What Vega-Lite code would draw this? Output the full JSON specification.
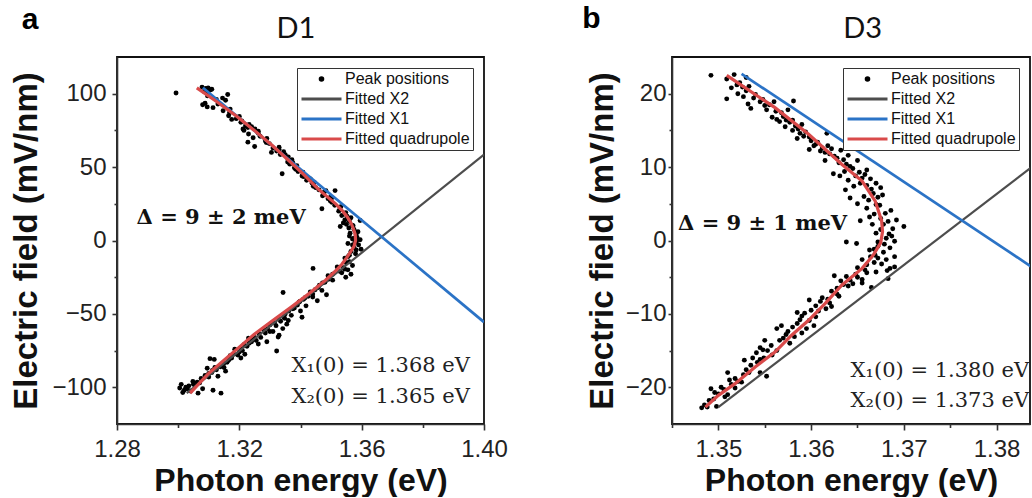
{
  "$schema": "https://vega.github.io/schema/vega-lite/v6.json",
  "padding": {"left": 10, "top": 3, "right": 0, "bottom": 0},
  "datasets": {
    "ptsA": [{"e":1.2993,"f":100.5},{"e":1.3078,"f":104.5},{"e":1.3090,"f":103.5},{"e":1.3098,"f":104},{"e":1.3105,"f":102.5},{"e":1.3085,"f":101.5},{"e":1.3110,"f":103},{"e":1.3080,"f":92.5},{"e":1.3095,"f":91},{"e":1.3088,"f":93.5},{"e":1.3114,"f":90.5},{"e":1.3145,"f":97},{"e":1.3162,"f":99.5},{"e":1.3155,"f":95.5},{"e":1.3147,"f":88.4},{"e":1.3165,"f":85},{"e":1.3175,"f":82.5},{"e":1.3190,"f":83},{"e":1.3205,"f":80.5},{"e":1.3220,"f":78},{"e":1.3212,"f":76},{"e":1.3215,"f":75},{"e":1.3230,"f":72.5},{"e":1.3245,"f":70},{"e":1.3228,"f":67},{"e":1.3250,"f":64},{"e":1.3262,"f":73},{"e":1.3240,"f":77.5},{"e":1.3251,"f":76},{"e":1.3285,"f":68},{"e":1.3298,"f":66},{"e":1.3310,"f":63},{"e":1.3322,"f":61},{"e":1.3305,"f":60},{"e":1.3330,"f":63.5},{"e":1.3345,"f":60.5},{"e":1.3360,"f":57},{"e":1.3372,"f":55},{"e":1.3350,"f":58.5},{"e":1.3340,"f":45.5},{"e":1.3365,"f":52},{"e":1.3380,"f":49.5},{"e":1.3392,"f":47},{"e":1.3375,"f":53},{"e":1.3405,"f":44},{"e":1.3420,"f":41},{"e":1.3438,"f":39},{"e":1.3450,"f":36},{"e":1.3428,"f":42.5},{"e":1.3460,"f":34.5},{"e":1.3470,"f":21.6},{"e":1.3483,"f":34},{"e":1.3475,"f":31},{"e":1.3490,"f":28.5},{"e":1.3502,"f":26},{"e":1.3512,"f":24},{"e":1.3498,"f":29.5},{"e":1.3513,"f":34},{"e":1.3525,"f":20},{"e":1.3535,"f":17},{"e":1.3545,"f":14},{"e":1.3550,"f":11},{"e":1.3558,"f":8.5},{"e":1.3562,"f":5},{"e":1.3540,"f":12},{"e":1.3565,"f":15.5},{"e":1.3530,"f":9.5},{"e":1.3560,"f":3},{"e":1.3570,"f":1},{"e":1.3578,"f":-1.5},{"e":1.3585,"f":2},{"e":1.3590,"f":-3},{"e":1.3598,"f":-6},{"e":1.3575,"f":-5},{"e":1.3565,"f":-7.5},{"e":1.3588,"f":6},{"e":1.3572,"f":10},{"e":1.3595,"f":0.5},{"e":1.3580,"f":-9},{"e":1.3555,"f":-2},{"e":1.3595,"f":13.6},{"e":1.3545,"f":-12},{"e":1.3560,"f":-14.5},{"e":1.3570,"f":-17},{"e":1.3555,"f":-20},{"e":1.3535,"f":-22},{"e":1.3548,"f":-25},{"e":1.3520,"f":-18},{"e":1.3565,"f":-23},{"e":1.3441,"f":-19},{"e":1.3490,"f":-24},{"e":1.3505,"f":-27},{"e":1.3480,"f":-28.5},{"e":1.3470,"f":-34},{"e":1.3485,"f":-37},{"e":1.3462,"f":-30.5},{"e":1.3343,"f":-35.4},{"e":1.3380,"f":-46},{"e":1.3395,"f":-42},{"e":1.3410,"f":-40},{"e":1.3425,"f":-38},{"e":1.3440,"f":-36.5},{"e":1.3400,"f":-48},{"e":1.3370,"f":-51},{"e":1.3455,"f":-41},{"e":1.3418,"f":-44.5},{"e":1.3360,"f":-54.5},{"e":1.3405,"f":-52.3},{"e":1.3320,"f":-58},{"e":1.3335,"f":-55},{"e":1.3348,"f":-53},{"e":1.3310,"f":-62},{"e":1.3330,"f":-64.5},{"e":1.3342,"f":-60},{"e":1.3355,"f":-57},{"e":1.3327,"f":-65.8},{"e":1.3322,"f":-75.3},{"e":1.3255,"f":-68},{"e":1.3270,"f":-66},{"e":1.3285,"f":-63},{"e":1.3300,"f":-62},{"e":1.3262,"f":-70.5},{"e":1.3290,"f":-69},{"e":1.3195,"f":-78},{"e":1.3210,"f":-75},{"e":1.3225,"f":-72},{"e":1.3240,"f":-69},{"e":1.3205,"f":-80},{"e":1.3230,"f":-66.5},{"e":1.3218,"f":-77.5},{"e":1.3185,"f":-74},{"e":1.3160,"f":-83},{"e":1.3175,"f":-80},{"e":1.3150,"f":-86.5},{"e":1.3110,"f":-90},{"e":1.3125,"f":-88},{"e":1.3140,"f":-85},{"e":1.3100,"f":-93},{"e":1.3130,"f":-92.5},{"e":1.3155,"f":-89},{"e":1.3118,"f":-81},{"e":1.3095,"f":-87},{"e":1.3104,"f":-80.5},{"e":1.3010,"f":-98},{"e":1.3025,"f":-100},{"e":1.3040,"f":-102.5},{"e":1.3055,"f":-99},{"e":1.3070,"f":-97},{"e":1.3080,"f":-101},{"e":1.3015,"f":-103.5},{"e":1.3048,"f":-96},{"e":1.3065,"f":-104},{"e":1.3140,"f":-104},{"e":1.3114,"f":-102},
      {"e":1.3092,"f":101},{"e":1.3096,"f":98.5},{"e":1.3125,"f":96},{"e":1.3130,"f":93},{"e":1.3170,"f":89.5},{"e":1.3168,"f":87},{"e":1.3200,"f":84.5},{"e":1.3208,"f":81.5},{"e":1.3232,"f":79},{"e":1.3228,"f":77},{"e":1.3262,"f":74.5},{"e":1.3268,"f":71},{"e":1.3290,"f":69.5},{"e":1.3288,"f":66.8},{"e":1.3330,"f":62},{"e":1.3334,"f":58.5},{"e":1.3356,"f":56.5},{"e":1.3358,"f":53.5},{"e":1.3388,"f":51},{"e":1.3384,"f":48.5},{"e":1.3408,"f":46.5},{"e":1.3410,"f":43.5},{"e":1.3432,"f":42},{"e":1.3445,"f":39.5},{"e":1.3442,"f":37},{"e":1.3478,"f":33},{"e":1.3472,"f":30.5},{"e":1.3502,"f":29},{"e":1.3497,"f":27},{"e":1.3532,"f":23},{"e":1.3528,"f":21},{"e":1.3548,"f":19},{"e":1.3552,"f":16.5},{"e":1.3560,"f":13},{"e":1.3568,"f":10.5},{"e":1.3575,"f":7.5},{"e":1.3582,"f":4},{"e":1.3575,"f":1.5},{"e":1.3583,"f":-0.5},{"e":1.3570,"f":-3},{"e":1.3582,"f":-6.5},{"e":1.3560,"f":-10},{"e":1.3555,"f":-11},{"e":1.3548,"f":-15},{"e":1.3540,"f":-18.5},{"e":1.3528,"f":-21},{"e":1.3545,"f":-19.5},{"e":1.3505,"f":-23},{"e":1.3490,"f":-26.5},{"e":1.3472,"f":-29},{"e":1.3458,"f":-32},{"e":1.3448,"f":-33.5},{"e":1.3432,"f":-35},{"e":1.3440,"f":-38.5},{"e":1.3415,"f":-39},{"e":1.3398,"f":-41.5},{"e":1.3390,"f":-44},{"e":1.3375,"f":-46.5},{"e":1.3362,"f":-48},{"e":1.3350,"f":-50},{"e":1.3345,"f":-52},{"e":1.3328,"f":-53},{"e":1.3315,"f":-56},{"e":1.3300,"f":-57.5},{"e":1.3292,"f":-60},{"e":1.3280,"f":-61},{"e":1.3265,"f":-63.5},{"e":1.3250,"f":-66},{"e":1.3240,"f":-67.5},{"e":1.3232,"f":-70},{"e":1.3215,"f":-71},{"e":1.3205,"f":-73.5},{"e":1.3200,"f":-76},{"e":1.3182,"f":-77.5},{"e":1.3170,"f":-78.5},{"e":1.3165,"f":-81.5},{"e":1.3150,"f":-83.5},{"e":1.3138,"f":-86},{"e":1.3120,"f":-86.5},{"e":1.3112,"f":-88.5},{"e":1.3100,"f":-90.5},{"e":1.3088,"f":-92},{"e":1.3075,"f":-94},{"e":1.3062,"f":-96.5},{"e":1.3050,"f":-98},{"e":1.3035,"f":-99},{"e":1.3030,"f":-101},{"e":1.3020,"f":-102},{"e":1.3005,"f":-100.5}],
    "fitA": [{"series":"Fitted X2","e":1.3028,"f":-104},{"series":"Fitted X2","e":1.40,"f":58.5},{"series":"Fitted X1","e":1.3081,"f":104},{"series":"Fitted X1","e":1.40,"f":-55.6},{"series":"Fitted quadrupole","e":1.3061,"f":104},{"series":"Fitted quadrupole","e":1.3123,"f":95},{"series":"Fitted quadrupole","e":1.3189,"f":85},{"series":"Fitted quadrupole","e":1.3249,"f":75},{"series":"Fitted quadrupole","e":1.3306,"f":65},{"series":"Fitted quadrupole","e":1.3359,"f":55},{"series":"Fitted quadrupole","e":1.3410,"f":45},{"series":"Fitted quadrupole","e":1.3458,"f":35},{"series":"Fitted quadrupole","e":1.3515,"f":25},{"series":"Fitted quadrupole","e":1.3538,"f":20},{"series":"Fitted quadrupole","e":1.3553,"f":16},{"series":"Fitted quadrupole","e":1.3565,"f":12},{"series":"Fitted quadrupole","e":1.3573,"f":8},{"series":"Fitted quadrupole","e":1.3579,"f":4},{"series":"Fitted quadrupole","e":1.3580,"f":0},{"series":"Fitted quadrupole","e":1.3575,"f":-4},{"series":"Fitted quadrupole","e":1.3563,"f":-8},{"series":"Fitted quadrupole","e":1.3550,"f":-12},{"series":"Fitted quadrupole","e":1.3536,"f":-16},{"series":"Fitted quadrupole","e":1.3518,"f":-20},{"series":"Fitted quadrupole","e":1.3482,"f":-27},{"series":"Fitted quadrupole","e":1.3429,"f":-36},{"series":"Fitted quadrupole","e":1.3372,"f":-45},{"series":"Fitted quadrupole","e":1.3306,"f":-55},{"series":"Fitted quadrupole","e":1.3248,"f":-64},{"series":"Fitted quadrupole","e":1.3198,"f":-73},{"series":"Fitted quadrupole","e":1.3147,"f":-82},{"series":"Fitted quadrupole","e":1.3097,"f":-91},{"series":"Fitted quadrupole","e":1.3039,"f":-104}],
    "ptsB": [{"e":1.3492,"f":22.5},{"e":1.3509,"f":19.3},{"e":1.3532,"f":18.6},{"e":1.3509,"f":22.0},{"e":1.3517,"f":22.6},{"e":1.3523,"f":21.5},{"e":1.3530,"f":22.2},{"e":1.3514,"f":20.8},{"e":1.3521,"f":20.0},{"e":1.3527,"f":19.6},{"e":1.3530,"f":20.4},{"e":1.3538,"f":19.4},{"e":1.3545,"f":18.9},{"e":1.3535,"f":18.0},{"e":1.3550,"f":18.4},{"e":1.3555,"f":18.5},{"e":1.3562,"f":17.6},{"e":1.3570,"f":16.9},{"e":1.3575,"f":17.8},{"e":1.3566,"f":16.2},{"e":1.3558,"f":16.8},{"e":1.3581,"f":19.0},{"e":1.3563,"f":16.5},{"e":1.3572,"f":15.5},{"e":1.3580,"f":15.0},{"e":1.3588,"f":14.6},{"e":1.3577,"f":16.1},{"e":1.3580,"f":16.4},{"e":1.3590,"f":15.8},{"e":1.3592,"f":14.2},{"e":1.3600,"f":13.6},{"e":1.3585,"f":13.9},{"e":1.3605,"f":13.1},{"e":1.3612,"f":12.6},{"e":1.3618,"f":12.9},{"e":1.3598,"f":12.4},{"e":1.3603,"f":12.9},{"e":1.3620,"f":11.8},{"e":1.3628,"f":11.2},{"e":1.3615,"f":10.9},{"e":1.3632,"f":12.3},{"e":1.3617,"f":14.6},{"e":1.3624,"f":9.1},{"e":1.3631,"f":8.8},{"e":1.3638,"f":10.4},{"e":1.3645,"f":9.8},{"e":1.3650,"f":10.9},{"e":1.3640,"f":11.6},{"e":1.3652,"f":9.3},{"e":1.3640,"f":8.2},{"e":1.3646,"f":7.4},{"e":1.3637,"f":6.9},{"e":1.3658,"f":9.0},{"e":1.3664,"f":8.4},{"e":1.3660,"f":7.5},{"e":1.3667,"f":6.4},{"e":1.3672,"f":5.9},{"e":1.3657,"f":6.0},{"e":1.3675,"f":7.2},{"e":1.3642,"f":5.8},{"e":1.3650,"f":5.0},{"e":1.3660,"f":4.4},{"e":1.3668,"f":3.6},{"e":1.3674,"f":4.8},{"e":1.3663,"f":3.2},{"e":1.3686,"f":4.1},{"e":1.3692,"f":2.8},{"e":1.3700,"f":1.9},{"e":1.3688,"f":1.6},{"e":1.3653,"f":2.7},{"e":1.3670,"f":1.0},{"e":1.3678,"f":2.2},{"e":1.3681,"f":0.3},{"e":1.3672,"f":-0.2},{"e":1.3684,"f":0.9},{"e":1.3690,"f":-0.1},{"e":1.3638,"f":-0.2},{"e":1.3649,"f":-0.4},{"e":1.3672,"f":-0.8},{"e":1.3678,"f":-1.6},{"e":1.3685,"f":-1.0},{"e":1.3690,"f":-2.2},{"e":1.3669,"f":-2.0},{"e":1.3663,"f":-1.3},{"e":1.3655,"f":-2.6},{"e":1.3660,"f":-3.3},{"e":1.3668,"f":-3.0},{"e":1.3650,"f":-3.7},{"e":1.3672,"f":-2.4},{"e":1.3676,"f":-3.2},{"e":1.3682,"f":-4.1},{"e":1.3690,"f":-3.6},{"e":1.3685,"f":-3.8},{"e":1.3683,"f":-5.2},{"e":1.3648,"f":-4.6},{"e":1.3655,"f":-5.3},{"e":1.3660,"f":-4.4},{"e":1.3645,"f":-5.9},{"e":1.3625,"f":-4.8},{"e":1.3632,"f":-5.5},{"e":1.3640,"f":-6.2},{"e":1.3638,"f":-4.9},{"e":1.3628,"f":-6.5},{"e":1.3655,"f":-5.8},{"e":1.3665,"f":-6.4},{"e":1.3612,"f":-7.8},{"e":1.3620,"f":-8.5},{"e":1.3628,"f":-7.3},{"e":1.3616,"f":-9.3},{"e":1.3605,"f":-8.9},{"e":1.3598,"f":-8.1},{"e":1.3608,"f":-9.6},{"e":1.3590,"f":-10.3},{"e":1.3598,"f":-10.9},{"e":1.3603,"f":-11.6},{"e":1.3585,"f":-9.8},{"e":1.3585,"f":-11.3},{"e":1.3595,"f":-12.0},{"e":1.3568,"f":-11.6},{"e":1.3575,"f":-12.4},{"e":1.3582,"f":-13.1},{"e":1.3570,"f":-13.3},{"e":1.3563,"f":-12.0},{"e":1.3550,"f":-13.6},{"e":1.3557,"f":-14.3},{"e":1.3563,"f":-15.0},{"e":1.3548,"f":-14.9},{"e":1.3541,"f":-15.3},{"e":1.3549,"f":-16.0},{"e":1.3545,"f":-14.6},{"e":1.3528,"f":-16.3},{"e":1.3535,"f":-17.0},{"e":1.3542,"f":-16.6},{"e":1.3530,"f":-17.6},{"e":1.3545,"f":-18.0},{"e":1.3552,"f":-18.5},{"e":1.3510,"f":-18.0},{"e":1.3518,"f":-18.8},{"e":1.3525,"f":-19.3},{"e":1.3514,"f":-19.6},{"e":1.3518,"f":-20.1},{"e":1.3492,"f":-20.2},{"e":1.3500,"f":-20.9},{"e":1.3507,"f":-21.3},{"e":1.3495,"f":-21.6},{"e":1.3485,"f":-22.4},{"e":1.3490,"f":-21.8},{"e":1.3498,"f":-22.6},
      {"e":1.3520,"f":21.2},{"e":1.3526,"f":20.9},{"e":1.3533,"f":21.0},{"e":1.3540,"f":19.9},{"e":1.3548,"f":19.2},{"e":1.3552,"f":17.8},{"e":1.3560,"f":18.9},{"e":1.3568,"f":17.4},{"e":1.3573,"f":16.4},{"e":1.3583,"f":15.6},{"e":1.3586,"f":15.2},{"e":1.3594,"f":14.8},{"e":1.3598,"f":14.1},{"e":1.3607,"f":13.4},{"e":1.3610,"f":12.2},{"e":1.3615,"f":12.0},{"e":1.3622,"f":12.5},{"e":1.3625,"f":11.5},{"e":1.3630,"f":10.6},{"e":1.3635,"f":11.0},{"e":1.3642,"f":10.1},{"e":1.3636,"f":9.4},{"e":1.3648,"f":8.8},{"e":1.3655,"f":8.5},{"e":1.3660,"f":9.6},{"e":1.3653,"f":7.8},{"e":1.3665,"f":7.0},{"e":1.3670,"f":7.8},{"e":1.3662,"f":5.5},{"e":1.3670,"f":4.9},{"e":1.3677,"f":6.2},{"e":1.3680,"f":3.7},{"e":1.3675,"f":3.0},{"e":1.3683,"f":2.6},{"e":1.3666,"f":2.2},{"e":1.3675,"f":1.5},{"e":1.3687,"f":0.6},{"e":1.3679,"f":-0.5},{"e":1.3668,"f":-1.2},{"e":1.3681,"f":-2.6},{"e":1.3664,"f":-2.2},{"e":1.3658,"f":-4.0},{"e":1.3670,"f":-4.3},{"e":1.3650,"f":-5.0},{"e":1.3642,"f":-5.4},{"e":1.3635,"f":-6.0},{"e":1.3622,"f":-6.9},{"e":1.3630,"f":-7.6},{"e":1.3618,"f":-8.0},{"e":1.3610,"f":-8.3},{"e":1.3622,"f":-9.0},{"e":1.3600,"f":-9.5},{"e":1.3593,"f":-9.9},{"e":1.3605,"f":-10.4},{"e":1.3588,"f":-10.8},{"e":1.3580,"f":-11.8},{"e":1.3590,"f":-12.6},{"e":1.3573,"f":-12.8},{"e":1.3566,"f":-13.6},{"e":1.3577,"f":-14.0},{"e":1.3558,"f":-15.6},{"e":1.3553,"f":-15.0},{"e":1.3545,"f":-16.2},{"e":1.3537,"f":-16.0},{"e":1.3533,"f":-18.0},{"e":1.3527,"f":-18.3},{"e":1.3521,"f":-19.2},{"e":1.3512,"f":-19.0},{"e":1.3506,"f":-20.3},{"e":1.3503,"f":-20.0},{"e":1.3496,"f":-20.7},{"e":1.3488,"f":-22.7},{"e":1.3482,"f":-22.8},{"e":1.3510,"f":-21.0}],
    "fitB": [{"series":"Fitted X2","e":1.3500,"f":-22.7},{"series":"Fitted X2","e":1.3845,"f":10.7},{"series":"Fitted X1","e":1.3525,"f":22.7},{"series":"Fitted X1","e":1.3845,"f":-4.2},{"series":"Fitted quadrupole","e":1.3509,"f":22.5},{"series":"Fitted quadrupole","e":1.3561,"f":18.1},{"series":"Fitted quadrupole","e":1.3597,"f":14.5},{"series":"Fitted quadrupole","e":1.3633,"f":10.4},{"series":"Fitted quadrupole","e":1.3655,"f":8.1},{"series":"Fitted quadrupole","e":1.3669,"f":5.4},{"series":"Fitted quadrupole","e":1.3676,"f":2.7},{"series":"Fitted quadrupole","e":1.3677,"f":1.2},{"series":"Fitted quadrupole","e":1.3675,"f":-0.3},{"series":"Fitted quadrupole","e":1.3667,"f":-2.0},{"series":"Fitted quadrupole","e":1.3655,"f":-3.8},{"series":"Fitted quadrupole","e":1.3633,"f":-6.1},{"series":"Fitted quadrupole","e":1.3615,"f":-8.6},{"series":"Fitted quadrupole","e":1.3597,"f":-10.9},{"series":"Fitted quadrupole","e":1.3579,"f":-12.9},{"series":"Fitted quadrupole","e":1.3561,"f":-15.2},{"series":"Fitted quadrupole","e":1.3540,"f":-17.2},{"series":"Fitted quadrupole","e":1.3518,"f":-19.5},{"series":"Fitted quadrupole","e":1.3500,"f":-21.1},{"series":"Fitted quadrupole","e":1.3486,"f":-22.7}]
  },
  "hconcat": [
    {
      "width": 367,
      "height": 367,
      "layer": [
        {
          "data": {"name": "ptsA"},
          "mark": {"type": "point", "filled": true, "size": 24, "opacity": 1, "color": "#000000"},
          "encoding": {
            "x": {"field": "e", "type": "quantitative", "scale": {"domain": [1.28, 1.40], "nice": false, "zero": false},
                  "axis": {"orient": "bottom", "values": [1.28, 1.32, 1.36, 1.40], "format": ".2f", "tickSize": 6, "labelPadding": 7, "title": "Photon energy (eV)", "titlePadding": 4}},
            "y": {"field": "f", "type": "quantitative", "scale": {"domain": [-125, 125], "nice": false, "zero": false},
                  "axis": {"orient": "left", "values": [-100, -50, 0, 50, 100], "tickSize": 5, "labelPadding": 6, "title": "Electric field (mV/nm)", "titlePadding": 8}}
          }
        },
        {
          "data": {"name": "fitA"},
          "mark": {"type": "line", "clip": true},
          "encoding": {
            "x": {"field": "e", "type": "quantitative", "axis": {"orient": "bottom", "values": [1.30, 1.34, 1.38], "labels": false, "tickSize": 3.5, "domain": false, "title": null}},
            "y": {"field": "f", "type": "quantitative", "axis": {"orient": "left", "values": [-75, -25, 25, 75], "labels": false, "tickSize": 3, "domain": false, "title": null}},
            "color": {"field": "series", "type": "nominal",
                      "scale": {"domain": ["Peak positions", "Fitted X2", "Fitted X1", "Fitted quadrupole"], "range": ["#000000", "#4d4d4d", "#2b73c6", "#d94a4a"]},
                      "legend": {"title": null,
                                 "symbolType": {"expr": "datum.value === 'Peak positions' ? 'M0.07,0A0.07,0.07,0,1,1,-0.07,0A0.07,0.07,0,1,1,0.07,0Z' : 'stroke'"},
                                 "symbolFillColor": {"expr": "datum.value === 'Peak positions' ? '#000000' : 'transparent'"}}},
            "strokeWidth": {"field": "series", "type": "ordinal", "scale": {"domain": ["Fitted X2", "Fitted X1", "Fitted quadrupole"], "range": [2.2, 3.2]}, "legend": null},
            "order": {"field": "f", "sort": "descending"}
          }
        },
        {
          "data": {"values": [{}]},
          "mark": {"type": "text", "text": "Δ = 9 ± 2 meV", "font": "DejaVu Serif", "fontWeight": "bold", "fontSize": 21, "align": "left", "baseline": "middle", "color": "#111111"},
          "encoding": {"x": {"datum": 1.2864, "type": "quantitative", "axis": null}, "y": {"datum": 15.3, "type": "quantitative", "axis": null}}
        },
        {
          "data": {"values": [{}]},
          "mark": {"type": "text", "text": "X₁(0) = 1.368 eV", "font": "DejaVu Serif", "fontSize": 21, "align": "right", "baseline": "middle", "color": "#222222"},
          "encoding": {"x": {"datum": 1.3954, "type": "quantitative", "axis": null}, "y": {"datum": -85.7, "type": "quantitative", "axis": null}}
        },
        {
          "data": {"values": [{}]},
          "mark": {"type": "text", "text": "X₂(0) = 1.365 eV", "font": "DejaVu Serif", "fontSize": 21, "align": "right", "baseline": "middle", "color": "#222222"},
          "encoding": {"x": {"datum": 1.3954, "type": "quantitative", "axis": null}, "y": {"datum": -106.8, "type": "quantitative", "axis": null}}
        },
        {
          "data": {"values": [{}]},
          "mark": {"type": "text", "text": "a", "font": "Liberation Sans", "fontWeight": "bold", "fontSize": 30, "align": "center", "baseline": "alphabetic", "color": "#000000"},
          "encoding": {"x": {"datum": 1.2516, "type": "quantitative", "axis": null}, "y": {"datum": 144.2, "type": "quantitative", "axis": null}}
        },
        {
          "data": {"values": [{}]},
          "mark": {"type": "text", "text": "D1", "font": "Lato", "fontSize": 29, "align": "center", "baseline": "alphabetic", "color": "#111111"},
          "encoding": {"x": {"datum": 1.3385, "type": "quantitative", "axis": null}, "y": {"datum": 137.9, "type": "quantitative", "axis": null}}
        }
      ],
      "resolve": {"axis": {"x": "independent", "y": "independent"}}
    },
    {
      "width": 358,
      "height": 367,
      "layer": [
        {
          "data": {"name": "ptsB"},
          "mark": {"type": "point", "filled": true, "size": 24, "opacity": 1, "color": "#000000"},
          "encoding": {
            "x": {"field": "e", "type": "quantitative", "scale": {"domain": [1.345, 1.3836], "nice": false, "zero": false},
                  "axis": {"orient": "bottom", "values": [1.35, 1.36, 1.37, 1.38], "format": ".2f", "tickSize": 6, "labelPadding": 7, "title": "Photon energy (eV)", "titlePadding": 4}},
            "y": {"field": "f", "type": "quantitative", "scale": {"domain": [-25, 25], "nice": false, "zero": false},
                  "axis": {"orient": "left", "values": [-20, -10, 0, 10, 20], "tickSize": 4, "labelPadding": 2, "title": "Electric field (mV/nm)", "titlePadding": 6}}
          }
        },
        {
          "data": {"name": "fitB"},
          "mark": {"type": "line", "clip": true},
          "encoding": {
            "x": {"field": "e", "type": "quantitative", "axis": {"orient": "bottom", "values": [1.345, 1.355, 1.365, 1.375], "labels": false, "tickSize": 3.5, "domain": false, "title": null}},
            "y": {"field": "f", "type": "quantitative", "axis": {"orient": "left", "values": [-15, -5, 5, 15], "labels": false, "tickSize": 3, "domain": false, "title": null}},
            "color": {"field": "series", "type": "nominal",
                      "scale": {"domain": ["Peak positions", "Fitted X2", "Fitted X1", "Fitted quadrupole"], "range": ["#000000", "#4d4d4d", "#2b73c6", "#d94a4a"]},
                      "legend": {"title": null,
                                 "symbolType": {"expr": "datum.value === 'Peak positions' ? 'M0.07,0A0.07,0.07,0,1,1,-0.07,0A0.07,0.07,0,1,1,0.07,0Z' : 'stroke'"},
                                 "symbolFillColor": {"expr": "datum.value === 'Peak positions' ? '#000000' : 'transparent'"}}},
            "strokeWidth": {"field": "series", "type": "ordinal", "scale": {"domain": ["Fitted X2", "Fitted X1", "Fitted quadrupole"], "range": [2.2, 3.2]}, "legend": null},
            "order": {"field": "f", "sort": "descending"}
          }
        },
        {
          "data": {"values": [{}]},
          "mark": {"type": "text", "text": "Δ = 9 ± 1 meV", "font": "DejaVu Serif", "fontWeight": "bold", "fontSize": 21, "align": "left", "baseline": "middle", "color": "#111111"},
          "encoding": {"x": {"datum": 1.34565, "type": "quantitative", "axis": null}, "y": {"datum": 2.3, "type": "quantitative", "axis": null}}
        },
        {
          "data": {"values": [{}]},
          "mark": {"type": "text", "text": "X₁(0) = 1.380 eV", "font": "DejaVu Serif", "fontSize": 21, "align": "right", "baseline": "middle", "color": "#222222"},
          "encoding": {"x": {"datum": 1.3835, "type": "quantitative", "axis": null}, "y": {"datum": -17.8, "type": "quantitative", "axis": null}}
        },
        {
          "data": {"values": [{}]},
          "mark": {"type": "text", "text": "X₂(0) = 1.373 eV", "font": "DejaVu Serif", "fontSize": 21, "align": "right", "baseline": "middle", "color": "#222222"},
          "encoding": {"x": {"datum": 1.3835, "type": "quantitative", "axis": null}, "y": {"datum": -21.9, "type": "quantitative", "axis": null}}
        },
        {
          "data": {"values": [{}]},
          "mark": {"type": "text", "text": "b", "font": "Liberation Sans", "fontWeight": "bold", "fontSize": 30, "align": "center", "baseline": "alphabetic", "color": "#000000"},
          "encoding": {"x": {"datum": 1.3363, "type": "quantitative", "axis": null}, "y": {"datum": 28.9, "type": "quantitative", "axis": null}}
        },
        {
          "data": {"values": [{}]},
          "mark": {"type": "text", "text": "D3", "font": "Lato", "fontSize": 29, "align": "center", "baseline": "alphabetic", "color": "#111111"},
          "encoding": {"x": {"datum": 1.36556, "type": "quantitative", "axis": null}, "y": {"datum": 27.6, "type": "quantitative", "axis": null}}
        }
      ],
      "resolve": {"axis": {"x": "independent", "y": "independent"}}
    }
  ],
  "spacing": 188,
  "bounds": "flush",
  "resolve": {"scale": {"color": "independent", "strokeWidth": "independent"}, "legend": {"color": "independent"}},
  "config": {
    "view": {"stroke": "#111111", "strokeWidth": 1.8},
    "axis": {"domainColor": "#333333", "domainWidth": 1.6, "tickColor": "#333333", "tickWidth": 1.6, "labelFont": "Liberation Sans", "labelFontSize": 24, "labelColor": "#222222", "titleFont": "Liberation Sans", "titleFontWeight": "bold", "titleColor": "#111111", "grid": false, "labelFlush": false, "labelOverlap": false, "labelBound": false},
    "axisX": {"titleFontSize": 32},
    "axisY": {"titleFontSize": 33},
    "legend": {"orient": "top-right", "offset": 11, "labelFont": "Liberation Sans", "labelFontSize": 16, "labelColor": "#111111", "strokeColor": "#333333", "fillColor": "#ffffff", "padding": 3, "rowPadding": 4, "symbolSize": 1600, "symbolStrokeWidth": 2.8, "clipHeight": 16, "labelOffset": 2, "symbolOffset": 0}
  }
}
